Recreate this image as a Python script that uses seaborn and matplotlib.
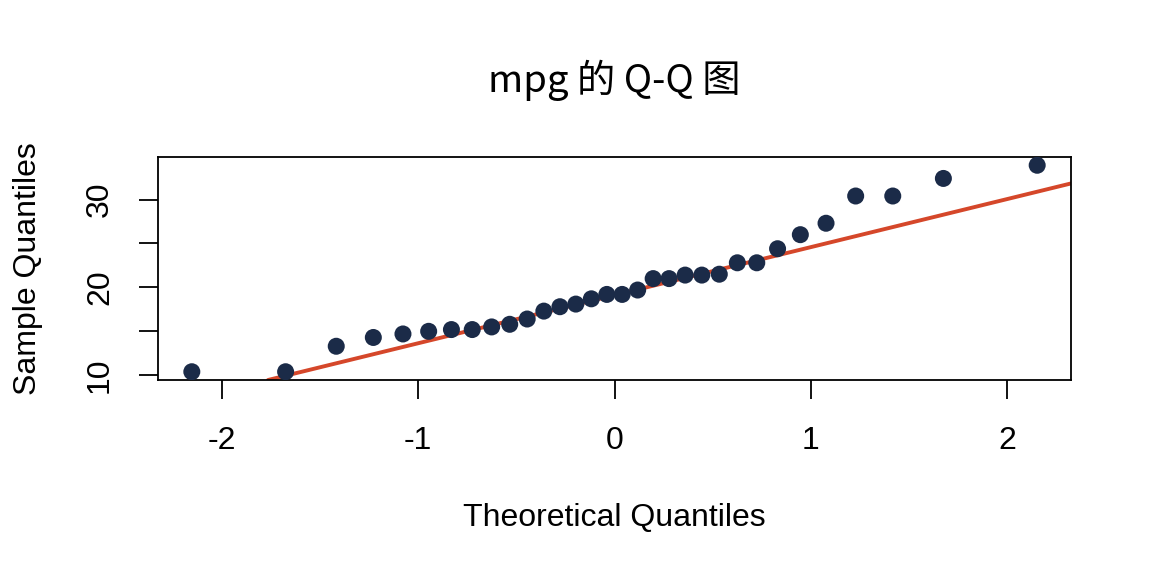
import matplotlib
matplotlib.use("Agg")
import matplotlib.pyplot as plt
import seaborn as sns
import numpy as np
import pandas as pd

# Theoretical normal quantiles
theoretical = [-2.154, -1.676, -1.418, -1.229, -1.078, -0.947, -0.831, -0.725,
               -0.626, -0.534, -0.445, -0.360, -0.278, -0.197, -0.118, -0.039,
               0.039, 0.118, 0.197, 0.278, 0.360, 0.445, 0.534, 0.626,
               0.725, 0.831, 0.947, 1.078, 1.229, 1.418, 1.676, 2.154]
# Sample quantiles (mpg, sorted)
sample = [10.4, 10.4, 13.3, 14.3, 14.7, 15.0, 15.2, 15.2, 15.5, 15.8, 16.4,
          17.3, 17.8, 18.1, 18.7, 19.2, 19.2, 19.7, 21.0, 21.0, 21.4, 21.4,
          21.5, 22.8, 22.8, 24.4, 26.0, 27.3, 30.4, 30.4, 32.4, 33.9]
x_ticks = [-2, -1, 0, 1, 2]
y_ticks = [10, 15, 20, 25, 30]
y_tick_labels = ["10", "", "20", "", "30"]

df = pd.DataFrame({"theoretical": theoretical, "sample": sample})

sns.set_theme(style="ticks")
plt.rcParams['font.family'] = ['Liberation Sans', 'Noto Sans CJK SC', 'DejaVu Sans']

fig = plt.figure(figsize=(11.52, 5.76), dpi=100)
left, right, top, bottom = 158, 1071, 157, 380
ax = fig.add_axes([left/1152, 1 - bottom/576, (right - left)/1152, (bottom - top)/576])

sns.scatterplot(data=df, x="theoretical", y="sample", ax=ax, color="#1B2B48",
                s=150, edgecolor="none", linewidth=0, zorder=3)

# qqline through the quartiles
q1, q3 = np.percentile(sample, [25, 75])
z = 0.6744898
slope = (q3 - q1) / (2 * z)
intercept = q1 + z * slope
ax.axline((0, intercept), slope=slope, color="#D5472A", linewidth=2.8, zorder=2)

xr = max(theoretical) - min(theoretical)
yr = max(sample) - min(sample)
ax.set_xlim(min(theoretical) - 0.04 * xr, max(theoretical) + 0.04 * xr)
ax.set_ylim(min(sample) - 0.04 * yr, max(sample) + 0.04 * yr)

ax.set_xticks(x_ticks)
ax.set_xticklabels([str(t) for t in x_ticks])
ax.set_yticks(y_ticks)
ax.set_yticklabels(y_tick_labels, rotation=90, va="center")

for s in ax.spines.values():
    s.set_visible(True)
    s.set_color("black")
    s.set_linewidth(1.3)

ax.tick_params(axis="both", direction="out", length=14, width=1.3, color="black",
               labelsize=23, labelcolor="black")
ax.tick_params(axis="x", pad=19)
ax.tick_params(axis="y", pad=17)

ax.set_xlabel("Theoretical Quantiles", fontsize=23, labelpad=34, color="black")
ax.set_ylabel("Sample Quantiles", fontsize=23, labelpad=30, color="black")

fig.text((left + right) / 2 / 1152, 1 - 80/576, "mpg 的 Q-Q 图", ha="center", va="center",
         fontsize=27.5, family=['Noto Sans CJK SC', 'DejaVu Sans'], color="black")

fig.savefig("out.png", dpi=100, facecolor="white")
